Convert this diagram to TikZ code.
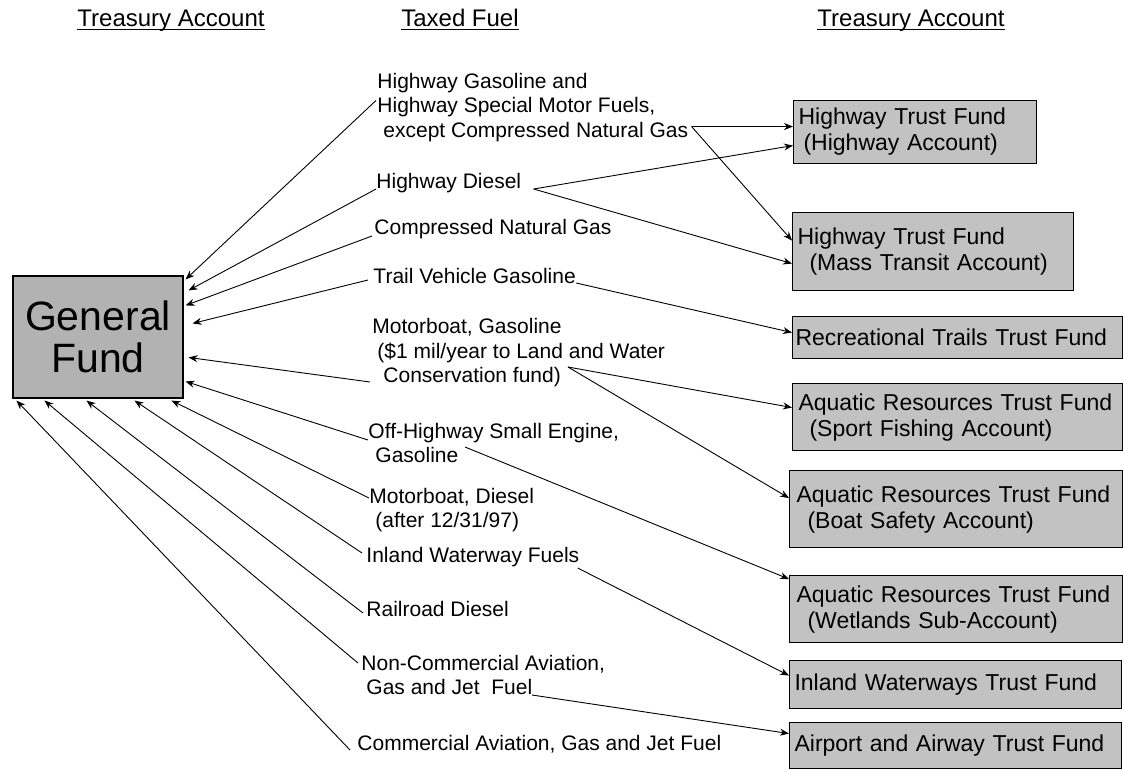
\documentclass[tikz,border=0pt]{standalone}
\usepackage{fontspec}
\setmainfont{Liberation Sans}
\usetikzlibrary{arrows.meta,calc}

\newcommand{\hdfont}{\fontsize{24}{28}\selectfont}
\newcommand{\fuelfont}{\fontsize{21}{24.5}\selectfont}
\newcommand{\fundfont}{\fontsize{23}{26}\selectfont}
\newcommand{\gffont}{\fontsize{41}{42}\selectfont}

\tikzset{
  head/.style={anchor=base, inner sep=0pt, font=\hdfont},
  uline/.style={line width=1pt},
  fuel/.style={anchor=west, inner sep=0pt, align=left, font=\fuelfont},
  fund/.style={draw, line width=1.1pt, fill=black!24, anchor=north west,
    align=left, font=\fundfont, inner xsep=5pt, inner ysep=0pt, text width=#1},
}

\begin{document}
\begin{tikzpicture}[x=1pt,y=-1pt,>={Stealth[length=9pt,width=7pt]},line width=0.9pt]
\useasboundingbox (0,0) rectangle (1124,771);

% column heads
\node[head] (hleft) at (171,26) {Treasury Account};
\node[head] (hmid) at (460,26) {Taxed Fuel};
\node[head] (hright) at (911,26) {Treasury Account};
\draw[uline] ($(hleft.base west)+(0,3)$) -- ($(hleft.base east)+(0,3)$);
\draw[uline] ($(hmid.base west)+(0,3)$) -- ($(hmid.base east)+(0,3)$);
\draw[uline] ($(hright.base west)+(0,3)$) -- ($(hright.base east)+(0,3)$);

% general fund
\node[draw, line width=1.1pt, fill=black!30, minimum width=170pt, minimum height=122pt,
  align=center, font=\gffont, inner sep=0pt] (gf) at (98,337) {General\\Fund};

% taxed fuels
\node[fuel] (hwgas) at (377,107.5) {Highway Gasoline and\\Highway Special Motor Fuels,\\\hspace*{6pt}except Compressed Natural Gas};
\node[fuel] (hwdsl) at (376,183) {Highway Diesel};
\node[fuel] (cng) at (374,229) {Compressed Natural Gas};
\node[fuel] (trail) at (373,276) {Trail Vehicle Gasoline};
\node[fuel] (mbgas) at (372,353) {Motorboat, Gasoline\\\hspace*{5pt}(\$1 mil/year to Land and Water\\\hspace*{11pt}Conservation fund)};
\node[fuel] (offhw) at (368,443) {Off-Highway Small Engine,\\\hspace*{7pt}Gasoline};
\node[fuel] (mbdsl) at (369,510) {Motorboat, Diesel\\\hspace*{6pt}(after 12/31/97)};
\node[fuel] (inland) at (366,557) {Inland Waterway Fuels};
\node[fuel] (rail) at (366,609) {Railroad Diesel};
\node[fuel] (noncom) at (361,675) {Non-Commercial Aviation,\\\hspace*{5pt}Gas and Jet\ \ Fuel};
\node[fuel] (comm) at (357,744) {Commercial Aviation, Gas and Jet Fuel};

% trust funds
\node[fund=233pt, minimum height=63pt] (hta) at (793,100) {Highway Trust Fund\\\hspace*{5pt}(Highway Account)};
\node[fund=271pt, minimum height=78pt] (mta) at (792,212) {Highway Trust Fund\\\hspace*{12pt}(Mass Transit Account)};
\node[fund=324pt, minimum height=42pt, inner xsep=3pt] (rec) at (792,316) {Recreational Trails Trust Fund};
\node[fund=324pt, minimum height=67pt, inner xsep=3pt] (sport) at (792,383) {\hspace*{3pt}Aquatic Resources Trust Fund\\\hspace*{14pt}(Sport Fishing Account)};
\node[fund=325pt, minimum height=77pt, inner xsep=4pt] (boat) at (789,470) {\hspace*{3pt}Aquatic Resources Trust Fund\\\hspace*{14pt}(Boat Safety Account)};
\node[fund=325pt, minimum height=67pt, inner xsep=4pt] (wet) at (789,575) {\hspace*{3pt}Aquatic Resources Trust Fund\\\hspace*{14pt}(Wetlands Sub-Account)};
\node[fund=322pt, minimum height=48pt] (inbox) at (789,660) {Inland Waterways Trust Fund};
\node[fund=322pt, minimum height=46pt] (air) at (789,722) {Airport and Airway Trust Fund};

% to the general fund
\path[->]
  ($(hwgas.west)+(-1,-7)$) edge ($(gf.north east)+(2,4)$)
  ($(hwdsl.west)+(0,6)$) edge ($(gf.north east)+(5,15)$)
  ($(cng.west)+(-2,7)$) edge ($(gf.north east)+(2,30)$)
  ($(trail.west)+(-5,4)$) edge ($(gf.north east)+(9,48)$)
  ($(mbgas.west)+(-2,29)$) edge ($(gf.north east)+(5,82)$)
  ($(offhw.west)+(0,-3)$) edge ($(gf.north east)+(2,106)$)
  ($(mbdsl.west)+(0,-12)$) edge ($(gf.south west)+(159,2)$)
  ($(inland.west)+(-4,-4)$) edge ($(gf.south west)+(122,2)$)
  ($(rail.west)+(-3,4)$) edge ($(gf.south west)+(74,2)$)
  ($(noncom.west)+(-3,-12)$) edge ($(gf.south west)+(32,2)$)
  ($(comm.west)+(-7,6)$) edge ($(gf.south west)+(4,2)$);

% to the trust funds
\path[->]
  ($(hwgas.east)+(3,19)$) edge ($(hta.west)+(0,-5.5)$)
  ($(hwgas.east)+(3,19)$) edge ($(mta.west)+(0,-11)$)
  ($(hwdsl.east)+(12,6)$) edge ($(hta.west)+(0,13.5)$)
  ($(hwdsl.east)+(12,6)$) edge ($(mta.west)+(0,12)$)
  ($(trail.east)+(0,7)$) edge ($(rec.west)+(0,-5)$)
  ($(mbgas.west)+(196,14)$) edge ($(sport.west)+(0,-9.5)$)
  ($(mbgas.west)+(196,14)$) edge ($(boat.west)+(0,-11)$)
  ($(offhw.west)+(97,4)$) edge ($(wet.west)+(0,-30)$)
  ($(inland.east)+(-2,11)$) edge ($(inbox.west)+(0,-9)$)
  ($(noncom.west)+(171,20)$) edge ($(air.west)+(0,-12)$);
\end{tikzpicture}
\end{document}
